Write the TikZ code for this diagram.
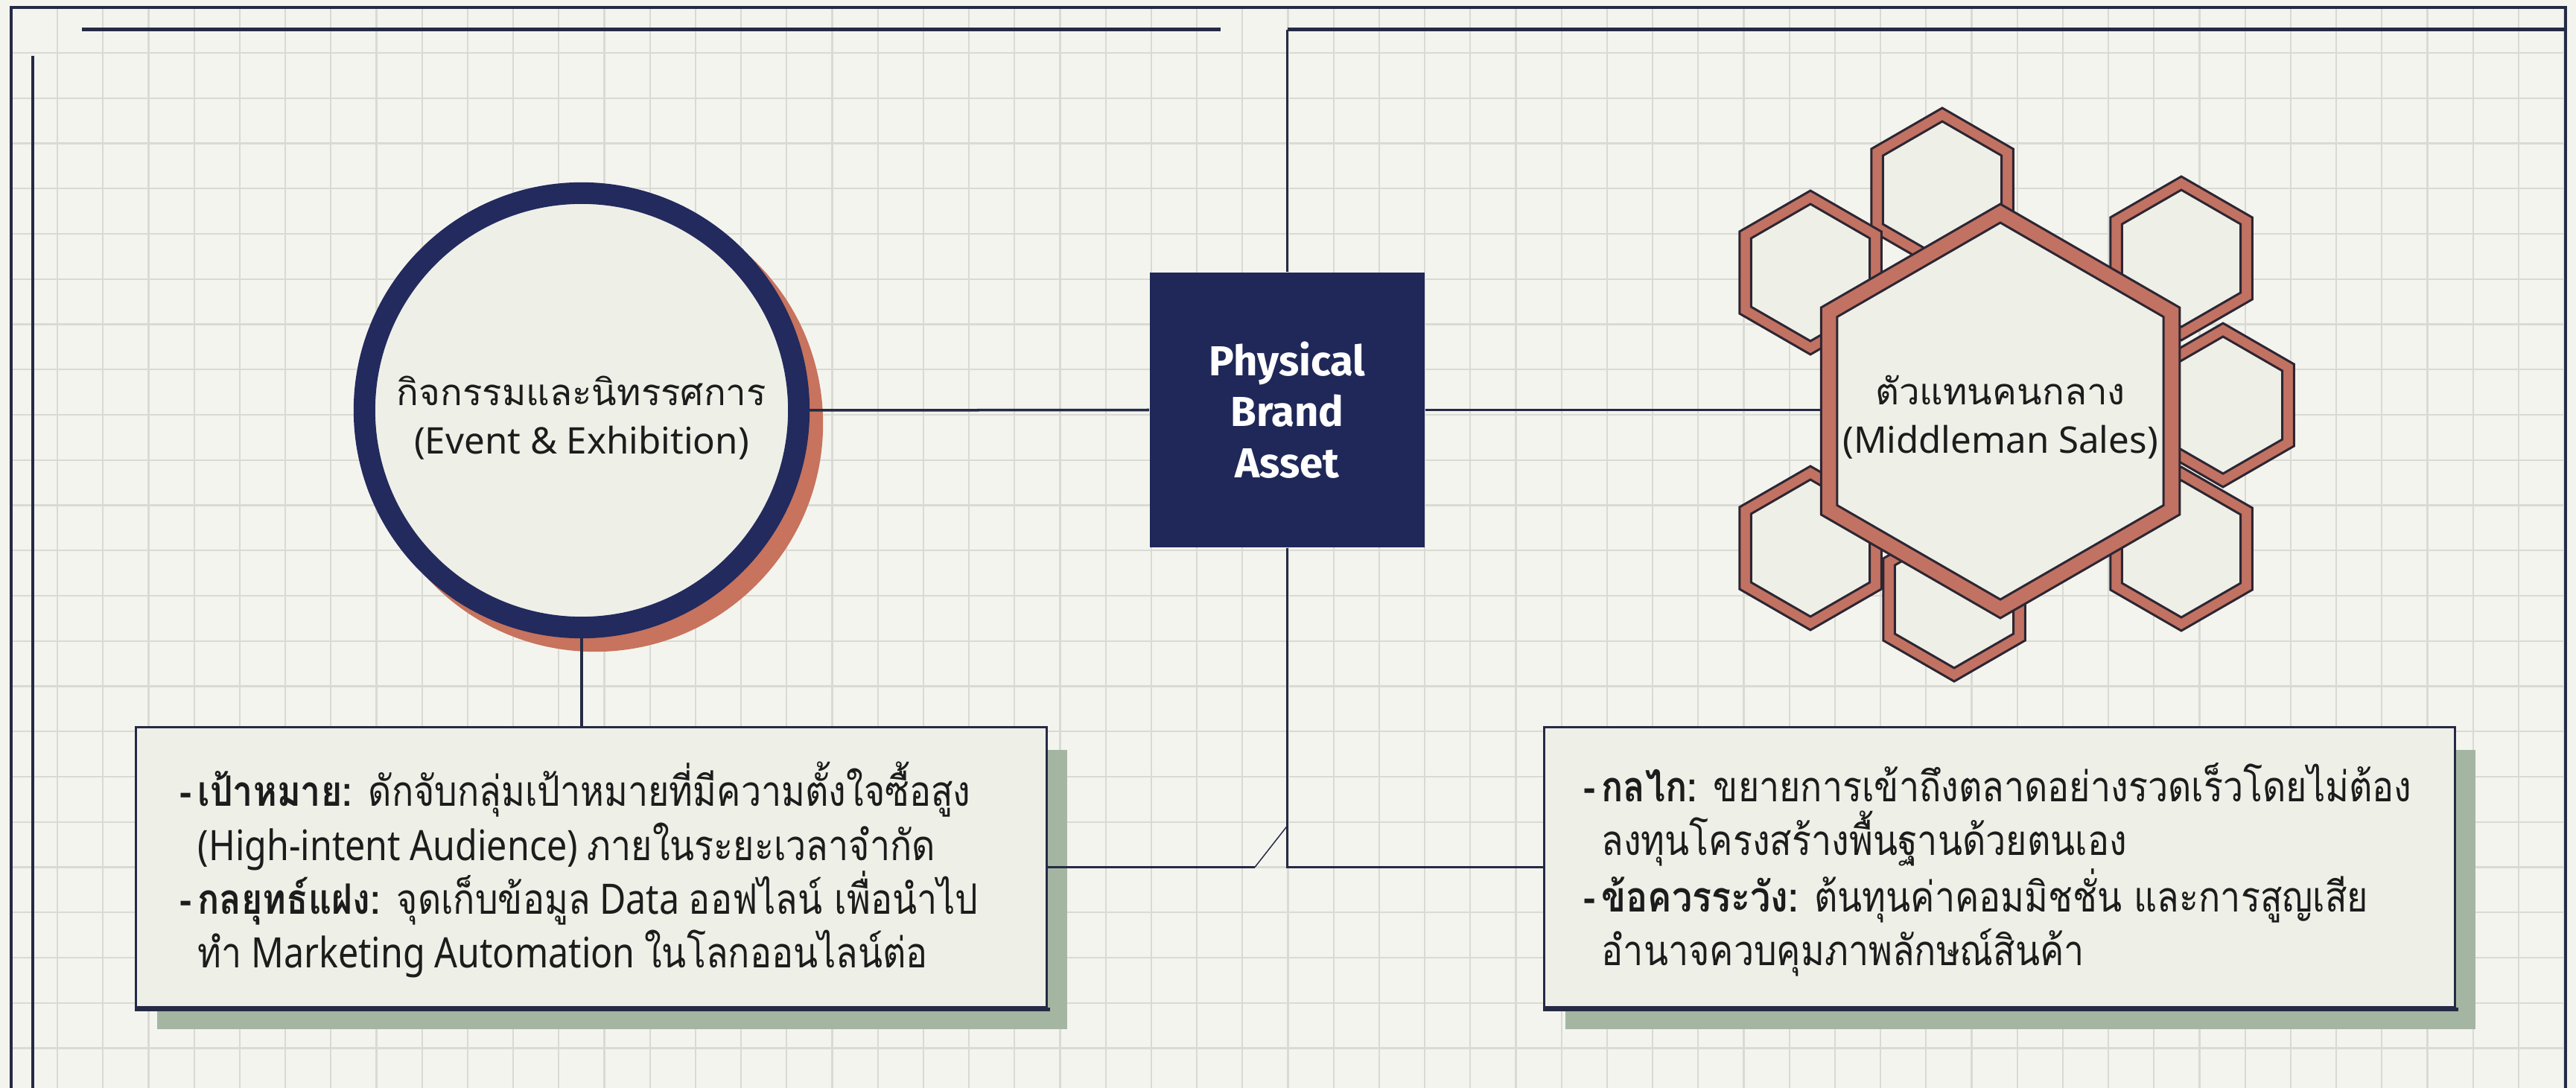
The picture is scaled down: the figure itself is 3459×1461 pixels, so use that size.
\documentclass[tikz,border=0pt]{standalone}
\usepackage{fontspec}
\setmainfont{Noto Sans}
\newfontfamily\thaifont[Script=Thai]{Loma}
\newfontfamily\notethai[Script=Thai, FakeStretch=0.86]{Loma}
\newfontfamily\notelatin{Noto Sans}[FakeStretch=0.86]
\newfontfamily\assetfont{Fira Sans}
\newcommand\tha[1]{{\thaifont #1}}
\newcommand\nth[1]{{\notethai #1}}
\newcommand\bullethead{\llap{\nth{\textbf{-}}\hspace{0.15em}}}
\definecolor{paper}{HTML}{F4F4EF}
\definecolor{gridline}{HTML}{DADAD4}
\definecolor{ink}{HTML}{1C1C1C}
\definecolor{navy}{HTML}{1F2858}
\definecolor{ringnavy}{HTML}{222A5E}
\definecolor{wirecol}{HTML}{252A45}
\definecolor{clay}{HTML}{C7735D}
\definecolor{hexband}{HTML}{C27262}
\definecolor{hexline}{HTML}{2D2633}
\definecolor{cellfill}{HTML}{EEEFE7}
\definecolor{sage}{HTML}{A4B6A2}
\tikzset{
  gridrule/.style={draw=gridline, line width=0.022cm},
  wire/.style={draw=wirecol, line width=0.035cm},
  thinwire/.style={draw=wirecol, line width=0.015cm},
  framerule/.style={draw=wirecol, line width=0.045cm},
  hexedge/.style={draw=hexline, line width=0.03cm, line join=miter},
  notebox/.style={rectangle, draw=wirecol, line width=0.03cm, fill=cellfill,
    minimum width=12.22cm, minimum height=3.75cm, inner sep=0pt},
  notetext/.style={anchor=west, align=left, inner sep=0pt, text=ink,
    font=\notelatin\fontsize{16}{20.5}\selectfont},
  celltext/.style={align=center, inner sep=0pt, text=ink,
    font=\fontsize{14}{18.5}\selectfont}
}
\begin{document}
\begin{tikzpicture}[x=0.01cm, y=-0.01cm]
  % paper and bounding box
  \fill[paper] (0,0) rectangle (3459,1461);
  \useasboundingbox (0,0) rectangle (3459,1461);

  % squared grid inside the frame
  \begin{scope}
    \clip (15,10) rectangle (3445,1461);
    \foreach \i in {0,...,55} \draw[gridrule] ({77+61.2*\i},0) -- ({77+61.2*\i},1461);
    \foreach \j in {0,...,22} \draw[gridrule] (0,{71+60.75*\j}) -- (3459,{71+60.75*\j});
  \end{scope}

  % frame rules
  \draw[framerule] (15,1461) -- (15,10) -- (3445,10) -- (3445,1461);
  \draw[framerule] (44,75) -- (44,1461);
  \draw[draw=wirecol, line width=0.05cm] (110,40) -- (1639,40);

  % event circle with offset shadow
  \fill[clay] (799,569) circle[radius=3.06cm];
  \node[circle, draw=ringnavy, line width=0.29cm, fill=cellfill,
        minimum size=5.83cm, inner sep=0pt] (ev) at (781,551) {};
  \node[celltext] (evtext) at (781,561)
    {\tha{กิจกรรมและนิทรรศการ}\\(Event \& Exhibition)};

  % central asset block
  \node[rectangle, fill=navy, minimum width=3.69cm, minimum height=3.69cm,
        inner sep=0pt, text=white, align=center,
        font=\assetfont\bfseries\fontsize{16}{19.5}\selectfont] (sq) at (1728.5,550.5)
        {Physical\\Brand\\Asset};

  % honeycomb around the middleman cell
  \foreach \cx/\cy in {2608/255, 2431/366, 2929/347, 2985/544, 2929/737, 2624/805, 2431/736} {
    \draw[hexedge, fill=hexband] (\cx,\cy) +(90:110) -- +(150:110) -- +(210:110)
      -- +(270:110) -- +(330:110) -- +(30:110) -- cycle;
    \draw[hexedge, fill=cellfill] (\cx,\cy) +(90:92) -- +(150:92) -- +(210:92)
      -- +(270:92) -- +(330:92) -- +(30:92) -- cycle;
  }
  \draw[hexedge, fill=hexband] (2686,552) +(90:278) -- +(150:278) -- +(210:278)
    -- +(270:278) -- +(330:278) -- +(30:278) -- cycle;
  \draw[hexedge, fill=cellfill] (2686,552) +(90:253) -- +(150:253) -- +(210:253)
    -- +(270:253) -- +(330:253) -- +(30:253) -- cycle;
  \coordinate (hexW) at (2445,552);
  \node[celltext] (hextext) at (2686,560)
    {\tha{ตัวแทนคนกลาง}\\(Middleman Sales)};

  % note boxes with sage shadows
  \fill[sage] (211,1007) rectangle (1433,1382);
  \fill[sage] (2102,1007) rectangle (3324,1382);
  \node[notebox] (lbox) at (794,1164.5) {};
  \node[notebox] (rbox) at (2685,1164.5) {};
  \draw[draw=wirecol, line width=0.05cm] ([yshift=-0.02cm]lbox.south west) -- ([yshift=-0.02cm, xshift=0.03cm]lbox.south east);
  \draw[draw=wirecol, line width=0.05cm] ([yshift=-0.02cm]rbox.south west) -- ([yshift=-0.02cm, xshift=0.03cm]rbox.south east);

  \node[notetext] (ltext) at (265,1168)
    {\bullethead\nth{\textbf{เป้าหมาย:} ดักจับกลุ่มเป้าหมายที่มีความตั้งใจซื้อสูง}\\
     (High-intent Audience) \nth{ภายในระยะเวลาจำกัด}\\
     \bullethead\nth{\textbf{กลยุทธ์แฝง:} จุดเก็บข้อมูล} Data \nth{ออฟไลน์ เพื่อนำไป}\\
     \nth{ทำ} Marketing Automation \nth{ในโลกออนไลน์ต่อ}};
  \node[notetext] (rtext) at (2150,1168)
    {\bullethead\nth{\textbf{กลไก:} ขยายการเข้าถึงตลาดอย่างรวดเร็วโดยไม่ต้อง}\\
     \nth{ลงทุนโครงสร้างพื้นฐานด้วยตนเอง}\\
     \bullethead\nth{\textbf{ข้อควรระวัง:} ต้นทุนค่าคอมมิชชั่น และการสูญเสีย}\\
     \nth{อำนาจควบคุมภาพลักษณ์สินค้า}};

  % connectors
  \coordinate (topjoin) at (1728.5,40);
  \coordinate (topend) at (3445,40);
  \coordinate (kink) at (1685,1164.5);
  \coordinate (tip) at (1728.5,1109);
  \draw[wire] (ev.east) -- (sq.west);
  \draw[wire] (sq.east) -- (sq.east -| hexW);
  \draw[wire] (ev.south) -- (ev.south |- lbox.north);
  \draw[wire] (sq.south) |- (rbox.west);
  \draw[wire] (sq.north) -- (topjoin);
  \draw[draw=wirecol, line width=0.05cm] (topjoin) -- (topend);
  \draw[wire] (lbox.east) -- (kink);
  \draw[thinwire] (kink) -- (tip);
\end{tikzpicture}
\end{document}
